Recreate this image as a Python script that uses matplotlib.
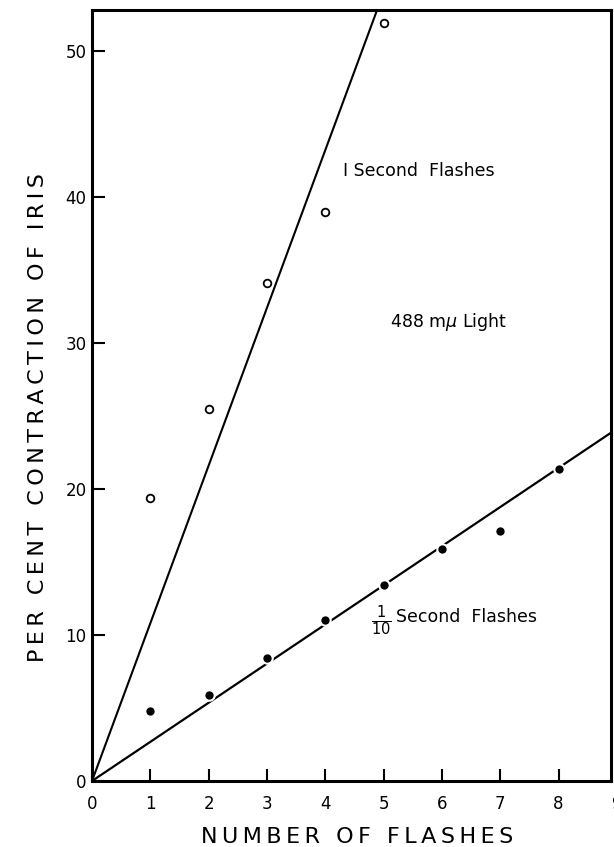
import matplotlib
matplotlib.use("Agg")
import matplotlib.pyplot as plt
import matplotlib.transforms as mtransforms
import numpy as np

plt.rcParams['font.family'] = ['DejaVu Sans']
plt.rcParams['mathtext.fontset'] = 'dejavusans'

# Data
one_sec_x = [1, 2, 3, 4, 5]
one_sec_y = [19.4, 25.5, 34.1, 39.0, 51.9]
tenth_sec_x = [1, 2, 3, 4, 5, 6, 7, 8]
tenth_sec_y = [4.8, 5.9, 8.4, 11.0, 13.4, 15.9, 17.1, 21.4]
one_sec_slope = 10.8
tenth_sec_slope = 2.68
xticks = [0, 1, 2, 3, 4, 5, 6, 7, 8]
xtick_labels = ['0', '1', '2', '3', '4', '5', '6', '7', '8']
yticks = [0, 10, 20, 30, 40, 50]
ytick_labels = ['0', '10', '20', '30', '40', '50']

TS = '\u2009'


def spaced(s):
    words = s.split(' ')
    return (TS + ' ' + TS).join(TS.join(w) for w in words)


W, H = 614, 847
fig = plt.figure(figsize=(W / 100, H / 100), dpi=100)
ax = fig.add_axes([92 / W, (H - 781) / H, (611 - 92) / W, (781 - 10) / H])
ax.set_xlim(0, 8.90)
ax.set_ylim(0, 52.8)

xl = np.array([0, 10])
ax.plot(xl, one_sec_slope * xl, color='black', lw=1.5, zorder=2)
ax.plot(xl, tenth_sec_slope * xl, color='black', lw=1.6, zorder=2)

ax.plot(one_sec_x, one_sec_y, 'o', ms=5.5, mfc='white', mec='black', mew=1.3, zorder=3)
ax.plot(tenth_sec_x, tenth_sec_y, 'o', ms=7.5, mfc='black', mec='white', mew=1.5, zorder=3)

for s in ax.spines.values():
    s.set_linewidth(2.2)

ax.set_xticks(xticks)
ax.set_xticklabels(xtick_labels)
ax.set_yticks(yticks)
ax.set_yticklabels(ytick_labels)
ax.tick_params(axis='both', direction='in', length=9, width=1.5, labelsize=12)
ax.tick_params(axis='x', pad=10)
ax.tick_params(axis='y', pad=4)
# the cut-off "9" at the right edge
tr9 = mtransforms.offset_copy(ax.get_xaxis_transform(), fig=fig, y=-10, units='points')
ax.text(9, 0, '9', ha='center', va='top', fontsize=12, clip_on=False, transform=tr9)

fig.text(357 / W, 1 - 837 / H, spaced('NUMBER OF FLASHES'), ha='center', va='center',
         fontsize=16)
fig.text(38 / W, 1 - 418 / H, spaced('PER CENT CONTRACTION OF IRIS'), ha='center',
         va='center', rotation=90, fontsize=16)

ax.text(4.31, 41.8, 'I Second  Flashes', ha='left', va='center', fontsize=12.5)
ax.text(5.11, 31.4, '488 m$\\mu$ Light', ha='left', va='center', fontsize=12.5)
ax.text(4.96, 11.0, '$\\frac{1}{10}$', ha='center', va='center', fontsize=15)
ax.text(5.22, 11.2, 'Second  Flashes', ha='left', va='center', fontsize=12.5)

fig.savefig('out.png', dpi=100)
